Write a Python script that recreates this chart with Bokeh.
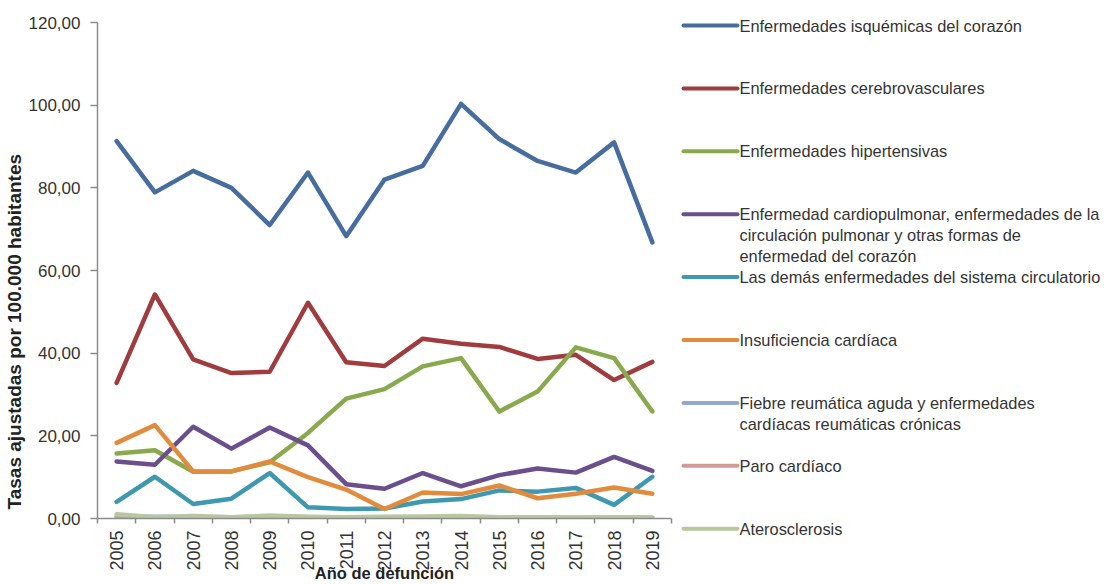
from math import pi
from bokeh.plotting import figure
from bokeh.models import Range1d, FixedTicker, Title
from bokeh.layouts import row
from bokeh.embed import file_html
from bokeh.resources import INLINE
from bokeh.core.properties import value

# ---------------- data ----------------
years = list(range(2005, 2020))

isquemicas = [91.3, 78.9, 84.1, 80.0, 71.0, 83.7, 68.3, 82.0, 85.3, 100.3, 91.8, 86.5, 83.7, 91.0, 66.8]
cerebrovasculares = [32.8, 54.2, 38.5, 35.2, 35.5, 52.2, 37.8, 36.9, 43.5, 42.3, 41.5, 38.6, 39.6, 33.5, 37.9]
hipertensivas = [15.7, 16.5, 11.3, 11.4, 13.6, 20.7, 29.0, 31.3, 36.8, 38.8, 25.9, 30.7, 41.4, 38.8, 25.9]
cardiopulmonar = [13.8, 13.0, 22.2, 16.9, 22.0, 17.7, 8.3, 7.2, 11.0, 7.8, 10.5, 12.1, 11.1, 14.9, 11.5]
demas_circulatorio = [4.0, 10.1, 3.5, 4.8, 11.0, 2.7, 2.3, 2.4, 4.1, 4.7, 6.8, 6.5, 7.4, 3.3, 10.1]
insuficiencia = [18.3, 22.6, 11.4, 11.4, 13.8, 10.0, 7.0, 2.3, 6.3, 5.9, 8.0, 4.9, 6.0, 7.5, 6.0]
reumatica = [0.5, 0.4, 0.4, 0.3, 0.4, 0.3, 0.3, 0.3, 0.3, 0.3, 0.2, 0.2, 0.2, 0.2, 0.2]
paro = [0.2, 0.1, 0.1, 0.1, 0.1, 0.1, 0.1, 0.1, 0.1, 0.1, 0.1, 0.1, 0.1, 0.1, 0.1]
aterosclerosis = [1.0, 0.3, 0.6, 0.3, 0.7, 0.4, 0.3, 0.4, 0.5, 0.6, 0.3, 0.3, 0.2, 0.3, 0.2]

series_names = [
    "Enfermedades isquémicas del corazón",
    "Enfermedades cerebrovasculares",
    "Enfermedades hipertensivas",
    "Enfermedad cardiopulmonar, enfermedades de la\ncirculación pulmonar y otras formas de\nenfermedad del corazón",
    "Las demás enfermedades del sistema circulatorio",
    "Insuficiencia cardíaca",
    "Fiebre reumática aguda y enfermedades\ncardíacas reumáticas crónicas",
    "Paro cardíaco",
    "Aterosclerosis",
]
series_values = [isquemicas, cerebrovasculares, hipertensivas, cardiopulmonar,
                 demas_circulatorio, insuficiencia, reumatica, paro, aterosclerosis]
series_colors = ["#476D9E", "#A03C3E", "#88A94C", "#6B4F8C", "#3E98B0",
                 "#E38B3D", "#93A9CC", "#D49A9A", "#B7C89F"]

y_ticks = [0, 20, 40, 60, 80, 100, 120]
x_title = "Año de defunción"
y_title = "Tasas ajustadas por 100.000 habitantes"

# ---------------- styling ----------------
FONT = "Liberation Sans"
TEXT_COLOR = "#333333"
AXIS_COLOR = "#8c8c8c"

p = figure(frame_width=574, frame_height=496, output_backend="svg", toolbar_location=None,
           x_range=Range1d(years[0] - 0.5, years[-1] + 0.5),
           y_range=Range1d(y_ticks[0], y_ticks[-1]),
           min_border_left=89, min_border_right=9, min_border_top=22,
           min_border_bottom=55, align="start")
p.frame_align = False
p.grid.visible = False
p.outline_line_color = None
p.background_fill_color = "white"
p.border_fill_color = "white"

for vals, col in zip(series_values, series_colors):
    p.line(years, vals, line_color=col, line_width=4.5, line_join="round", line_cap="round")

# x axis
xa = p.xaxis[0]
xa.ticker = FixedTicker(ticks=years, minor_ticks=[y - 0.5 for y in years] + [years[-1] + 0.5])
xa.major_label_overrides = {y: str(y) for y in years}
xa.major_label_orientation = pi / 2
xa.major_tick_out = 5
xa.major_tick_in = 0
xa.major_tick_line_color = None
xa.minor_tick_out = 5
xa.minor_tick_in = 0
xa.minor_tick_line_color = AXIS_COLOR
xa.minor_tick_line_width = 1.5
xa.axis_line_color = AXIS_COLOR
xa.axis_line_width = 1.5
xa.major_label_standoff = 7
xa.major_label_text_font = FONT
xa.major_label_text_font_size = "18px"
xa.major_label_text_color = TEXT_COLOR
xa.axis_label = x_title
xa.axis_label_standoff = -10
xa.axis_label_text_font = FONT
xa.axis_label_text_font_size = "16.5px"
xa.axis_label_text_font_style = "bold"
xa.axis_label_text_color = "#222222"

# y axis
ya = p.yaxis[0]
ya.ticker = FixedTicker(ticks=y_ticks, minor_ticks=[])
ya.major_label_overrides = {t: f"{t:.2f}".replace(".", ",") for t in y_ticks}
ya.major_tick_out = 7
ya.major_tick_in = 0
ya.major_tick_line_color = AXIS_COLOR
ya.major_tick_line_width = 1.5
ya.axis_line_color = AXIS_COLOR
ya.axis_line_width = 1.5
ya.major_label_standoff = 10
ya.major_label_text_font = FONT
ya.major_label_text_font_size = "17px"
ya.major_label_text_color = TEXT_COLOR

p.add_layout(Title(text=y_title, align="left", offset=9, standoff=2,
                   text_font=FONT, text_font_size="19px", text_font_style="bold",
                   text_color="#222222"), "left")

# ---------------- legend panel ----------------
LW, LH = 428, 560
lg = figure(width=LW, height=LH, output_backend="svg", toolbar_location=None,
            x_range=Range1d(0, LW), y_range=Range1d(LH, 0),
            x_axis_location=None, y_axis_location=None, min_border=0, align="start")
lg.frame_align = False
lg.grid.visible = False
lg.outline_line_color = None

row_top, row_step, line_step = 25, 62.9, 20.8
seg_x0, seg_x1, text_x = 3, 57, 59
rows_y = [row_top + row_step * i for i in range(len(series_names))]
lg.segment(x0=[seg_x0] * len(rows_y), y0=rows_y, x1=[seg_x1] * len(rows_y), y1=rows_y,
           line_color=series_colors, line_width=4, line_cap="round")
tx, ty, tt = [], [], []
for name, y0 in zip(series_names, rows_y):
    for k, line in enumerate(name.split("\n")):
        tx.append(text_x)
        ty.append(y0 + k * line_step)
        tt.append(line)
lg.text(x=tx, y=ty, text=tt, text_font=value(FONT), text_font_size="16.4px",
        text_baseline="middle", text_align="left", text_color=TEXT_COLOR)

layout = row(p, lg)
open("out.html", "w").write(file_html(layout, INLINE))
